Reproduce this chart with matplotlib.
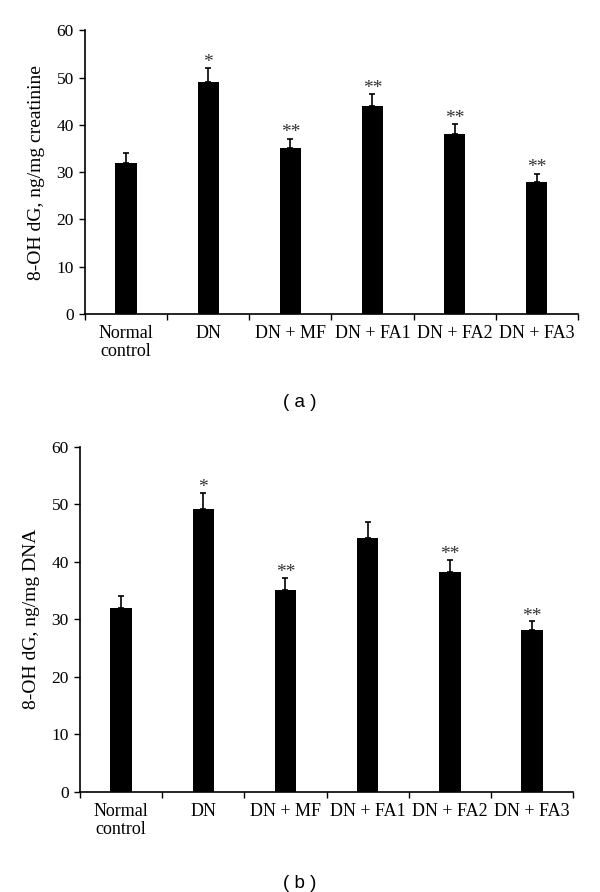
import matplotlib
matplotlib.use("Agg")
import matplotlib.pyplot as plt
import numpy as np

categories = ["Normal\ncontrol", "DN", "DN + MF", "DN + FA1", "DN + FA2", "DN + FA3"]
values_a = [32.0, 49.1, 35.1, 44.0, 38.0, 28.0]
errors_a = [2.0, 2.9, 2.0, 2.6, 2.2, 1.7]
stars_a = ["", "*", "**", "**", "**", "**"]
values_b = [32.0, 49.1, 35.1, 44.1, 38.2, 28.1]
errors_b = [2.0, 2.9, 2.1, 2.7, 2.1, 1.5]
stars_b = ["", "*", "**", "", "**", "**"]
yticks = [0, 10, 20, 30, 40, 50, 60]

plt.rcParams['font.family'] = ['Liberation Serif', 'DejaVu Serif']

fig = plt.figure(figsize=(6.0, 8.92), dpi=100)

def panel(rect, values, errors, stars, ylabel, letter, letter_y):
    ax = fig.add_axes(rect)
    x = np.arange(len(categories))
    ax.bar(x, values, width=0.26, color='black', zorder=2)
    ax.errorbar(x, values, yerr=[np.zeros(len(values)), errors], fmt='none',
                ecolor='black', elinewidth=1.2, capsize=2.5, capthick=1.2, zorder=3)
    for xi, v, e, s in zip(x, values, errors, stars):
        if s:
            ax.text(xi, v + e - 0.6, s, ha='center', va='bottom', fontsize=14,
                    color='#333333')
    ax.set_xlim(-0.5, len(categories) - 0.5)
    ax.set_ylim(0, 60)
    ax.set_yticks(yticks)
    ax.set_xticks(np.arange(len(categories) + 1) - 0.5)
    ax.set_xticklabels([])
    ax.set_xticks(x, minor=True)
    ax.set_xticklabels(categories, minor=True, fontsize=13, linespacing=1.1)
    ax.tick_params(axis='x', which='minor', length=0, pad=8)
    ax.tick_params(axis='x', which='major', length=4, width=1, direction='out')
    ax.tick_params(axis='y', length=4, width=1, direction='out', labelsize=12.5, pad=4)
    for lbl in ax.get_xticklabels(minor=True):
        lbl.set_verticalalignment('top')
    ax.spines['top'].set_visible(False)
    ax.spines['right'].set_visible(False)
    ax.spines['left'].set_linewidth(1.2)
    ax.spines['bottom'].set_linewidth(1.2)
    ax.set_ylabel(ylabel, fontsize=14, labelpad=8)
    fig.text(0.5, letter_y, "( " + letter + " )", ha='center', va='center',
             fontsize=13.5, family=['Liberation Sans', 'DejaVu Sans'])
    return ax

panel([0.1417, 0.648, 0.8213, 0.318], values_a, errors_a, stars_a,
      "8-OH dG, ng/mg creatinine", "a", 1 - 402 / 892)
panel([0.1333, 0.1124, 0.822, 0.387], values_b, errors_b, stars_b,
      "8-OH dG, ng/mg DNA", "b", 1 - 883 / 892)

fig.savefig("out.png", dpi=100)
